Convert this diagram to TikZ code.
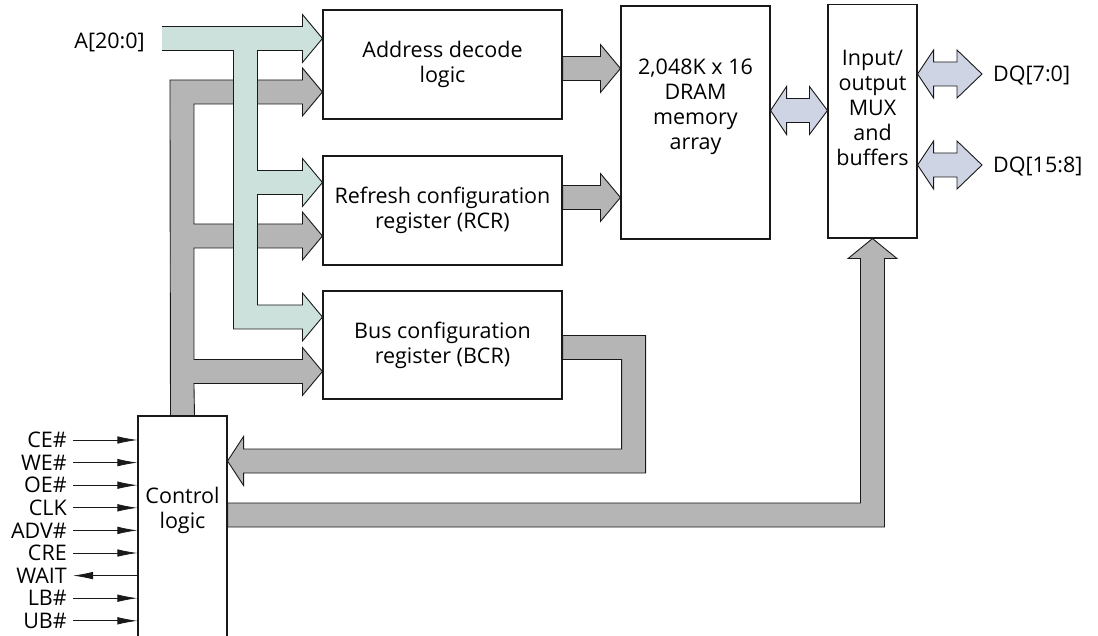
\documentclass[tikz,border=0pt]{standalone}
\usepackage{fontspec}
\setmainfont{Open Sans}
\usetikzlibrary{calc,arrows.meta}
\definecolor{busteal}{RGB}{204,224,220}
\definecolor{busgray}{RGB}{181,181,181}
\definecolor{buslav}{RGB}{206,212,228}
\definecolor{ink}{RGB}{25,25,25}
\newcommand\fs{\fontsize{21.5}{25}\selectfont}
% arrow head pointing right, entered from the top side of the shaft
\newcommand\hR[1]{-- ++(0,-12) -- (#1) -- ++(-20,24) -- ++(0,-12)}
% arrow head pointing right, entered from the bottom side of the shaft
\newcommand\hRu[1]{-- ++(0,12) -- (#1) -- ++(-20,-24) -- ++(0,12)}
% double headed horizontal fat arrow
\newcommand\dblarrow[4]{%
  \draw[bus, fill=buslav] (#1) -- ++(#3,-24) -- ++(0,12) -- ($(#2)+(-#4,-12)$) -- ++(0,-12) -- (#2)
    -- ++(-#4,24) -- ++(0,-12) -- ($(#1)+(#3,12)$) -- ++(0,12) -- cycle;}
\tikzset{
  blk/.style={draw=ink, line width=1.1pt, fill=white, align=center, inner sep=0pt, font=\fs},
  blktext/.style={align=center, inner sep=0pt, font=\fs},
  bus/.style={draw=ink, line width=0.9pt, line join=miter},
  sig/.style={font=\fs, inner sep=0pt, anchor=east},
  sigin/.style={draw=ink, line width=0.8pt, -{Latex[length=20pt,width=7.5pt]}},
  sigout/.style={draw=ink, line width=0.8pt, {Latex[length=20pt,width=7.5pt]}-},
}
\begin{document}
\begin{tikzpicture}[x=1pt,y=-1pt]
\useasboundingbox (0,0) rectangle (1098,636);

% ---- blocks
\node[blk, minimum width=239pt, minimum height=109pt] (ad) at (442.5,64.5) {Address decode\\logic};
\node[blk, minimum width=239pt, minimum height=109pt] (rcr) at (442.5,210.5) {Refresh configuration\\register (RCR)};
\node[blk, minimum width=239pt, minimum height=108pt] (bcr) at (442.5,345) {Bus configuration\\register (BCR)};
\node[blk, minimum width=149pt, minimum height=233pt,
  label={[blktext, yshift=16pt]center:2,048K x 16\\DRAM\\memory\\array}] (dram) at (695.5,122.5) {};
\node[blk, minimum width=89pt, minimum height=233.5pt,
  label={[blktext, yshift=13pt]center:Input/\\output\\MUX\\and\\buffers}] (io) at (872.5,121.25) {};

% ---- labels
\node[sig] (addr) at (145,42) {A[20:0]};
\node[font=\fs, inner sep=0pt, anchor=west] (dq1) at (993,76) {DQ[7:0]};
\node[font=\fs, inner sep=0pt, anchor=west] (dq2) at (993,167) {DQ[15:8]};

% ---- arrow tip coordinates on the blocks
\coordinate (adT) at ($(ad.west)+(0,-26)$);
\coordinate (adG) at ($(ad.west)+(0,27.5)$);
\coordinate (rcrT) at ($(rcr.west)+(0,-28)$);
\coordinate (rcrG) at ($(rcr.west)+(0,25.5)$);
\coordinate (bcrT) at ($(bcr.west)+(0,-28)$);
\coordinate (bcrG) at ($(bcr.west)+(0,26.5)$);

% ---- control logic block centre (block drawn later on top of the bus ends)
\path (182.5,548) coordinate (ctlc);

% gray control bus to the three registers
\draw[bus, fill=busgray] ($(ctlc)+(12,-132)$) -- ($(bcrG)+(-128.5,12)$) -- ($(bcrG)+(-20,12)$) \hRu{bcrG}
  -- ($(bcrG)+(-128.5,-12)$) -- ($(rcrG)+(-128.5,12)$) -- ($(rcrG)+(-20,12)$) \hRu{rcrG}
  -- ($(rcrG)+(-128.5,-12)$) -- ($(adG)+(-128.5,12)$) -- ($(adG)+(-20,12)$) \hRu{adG}
  -- ($(adG)+(-152.5,-12)$) -- ($(ctlc)+(-12,-132)$) -- cycle;

% teal address bus
\def\tealpath{(162,26.5) -- ($(adT)+(-20,-12)$) \hR{adT} -- ($(adT)+(-65,12)$) -- ($(rcrT)+(-65,-12)$)
  -- ($(rcrT)+(-20,-12)$) \hR{rcrT} -- ($(rcrT)+(-65,12)$) -- ($(bcrT)+(-65,-12)$)
  -- ($(bcrT)+(-20,-12)$) \hR{bcrT} -- ($(bcrT)+(-89,12)$) -- ($(adT)+(-89,12)$) -- (162,50.5)}
\fill[busteal] \tealpath -- cycle;
\draw[bus] \tealpath;

% control logic block
\node[blk, minimum width=89pt, minimum height=264pt,
  label={[blktext, yshift=38pt]center:Control\\logic}] (ctl) at (ctlc) {};

% address decode -> DRAM, RCR -> DRAM
\coordinate (adD) at ($(dram.west |- ad.east)+(0,4)$);
\draw[bus, fill=busgray] ($(ad.east)+(0,-8)$) -- ($(adD)+(-20,-12)$) \hR{adD} -- ($(ad.east)+(0,16)$) -- cycle;
\coordinate (rcrD) at ($(dram.west |- rcr.east)+(0,-13)$);
\draw[bus, fill=busgray] ($(rcr.east)+(0,-25)$) -- ($(rcrD)+(-20,-12)$) \hR{rcrD} -- ($(rcr.east)+(0,-1)$) -- cycle;

% BCR -> control logic feedback
\coordinate (bf1) at ($(bcr.east)+(0,2.5)$);
\coordinate (fb) at ($(ctl.east)+(0,-87)$);
\draw[bus, fill=busgray] ($(bf1)+(0,-12)$) -- ($(bf1)+(83,-12)$) -- ($(fb)+(418,12)$) -- ($(fb)+(16,12)$)
  -- ++(0,12.5) -- (fb) -- ++(16,-24.5) -- ++(0,12.5) -- ($(fb)+(394,-12)$) -- ($(bf1)+(59,12)$)
  -- ($(bf1)+(0,12)$) -- cycle;

% control logic -> I/O MUX
\coordinate (cio) at ($(ctl.east)+(0,-33)$);
\draw[bus, fill=busgray] ($(cio)+(0,-12)$) -- ($(io.south |- cio)+(-12,-12)$) -- ($(io.south)+(-12,20)$)
  -- ++(-12.5,0) -- (io.south) -- ++(24.5,20) -- ++(-12.5,0) -- ($(io.south |- cio)+(12,12)$)
  -- ($(cio)+(0,12)$) -- cycle;

% DRAM <-> I/O, I/O <-> DQ
\coordinate (m1) at ($(dram.east)+(0,-12)$);
\coordinate (m2) at (io.west |- m1);
\dblarrow{m1}{m2}{16}{18}
\coordinate (q1r) at ($(dq1.west)+(-11,-2)$);
\coordinate (q1l) at (io.east |- q1r);
\dblarrow{q1l}{q1r}{16}{25}
\coordinate (q2r) at ($(dq2.west)+(-11,-2)$);
\coordinate (q2l) at (io.east |- q2r);
\dblarrow{q2l}{q2r}{16}{25}

% control signals
\foreach \t/\d [count=\i from 0] in {CE\#/sigin, WE\#/sigin, OE\#/sigin, CLK/sigin, ADV\#/sigin, CRE/sigin, WAIT/sigout, LB\#/sigin, UB\#/sigin} {
  \node[sig] (s\i) at (67,{440+22.6*\i}) {\t};
  \draw[\d] ($(s\i.east)+(6,0)$) -- (ctl.west |- s\i.east);
}
\end{tikzpicture}
\end{document}
